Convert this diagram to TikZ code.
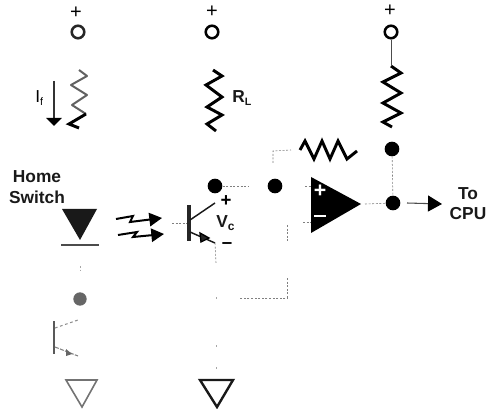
\documentclass[tikz,border=0pt]{standalone}
\usepackage{fontspec}
\setmainfont{Liberation Sans}
\usetikzlibrary{arrows.meta}
\tikzset{
  terminal/.style={circle,draw=black,fill=white,line width=1.9pt,minimum size=9.4pt,inner sep=0pt},
  junction/.style={circle,fill=black,minimum size=#1,inner sep=0pt},
  res/.style={draw=black,line width=2.2pt,line join=miter,miter limit=4},
  fres/.style={draw=black!62,line width=1.5pt,line join=round},
  wire/.style={draw=black!50,line width=0.45pt,dash pattern=on 1.5pt off 1.2pt},
  solidwire/.style={draw=black!70,line width=0.6pt},
  lab/.style={font=\fontsize{13}{13}\selectfont\bfseries,inner sep=0pt,text=black!90},
  sign/.style={font=\fontsize{15}{15}\selectfont,inner sep=0pt},
  beam/.style={draw=black,line width=1.5pt,-{Triangle[length=9.5pt,width=10pt,color=black]}},
  bar/.style={draw=black!85,line width=2.4pt},
  lead/.style={draw=black!90,line width=1.1pt},
}
\begin{document}
\begin{tikzpicture}[x=0.75pt,y=-0.75pt]
\useasboundingbox (0,0) rectangle (488,409);
% terminals and supply signs
\node[terminal,draw=black!85] (t1) at (78,32) {};
\node[terminal] (t2) at (212,32) {};
\node[terminal] (t3) at (391,32) {};
\node[sign] (p1) at (76,13) {+};
\node[sign] (p2) at (212,12) {+};
\node[sign] (p3) at (390,11) {+};
% resistors
\draw[fres] (79,70) -- (87,76) -- (71,85) -- (87,95) -- (72,105) -- (86,114);
\draw[res] (86,114) -- (69,124) -- (79,128);
\draw[res] (213,70) -- (222,76) -- (206,85) -- (222,97) -- (207,107) -- (222,115) -- (207,124) -- (216,131);
\coordinate (r3top) at (391,66);
\draw[res] (r3top) -- (401,73) -- (383,82) -- (401,93) -- (383,103) -- (401,113) -- (383,122) -- (392,127);
\coordinate (fbl) at (300,150);
\draw[res] (fbl) -- (305,141) -- (314,159) -- (322,141) -- (330,159) -- (338,141) -- (347,159) -- (357,151);
% junctions
\node[junction=11pt] (j1) at (215,186) {};
\node[junction=11pt] (j2) at (275,186) {};
\node[junction=11pt] (j3) at (392,149) {};
\node[junction=11pt] (j4) at (393,203) {};
\node[junction=10pt,fill=black!60] (j5) at (80,299) {};
% op amp
\coordinate (oa1) at (311,177);
\coordinate (oa2) at (361,204);
\coordinate (oa3) at (311,233);
\fill[black] (oa1) -- (oa2) -- (oa3) -- cycle;
\node[font=\fontsize{16}{16}\selectfont\bfseries,text=white,inner sep=0pt] (oap) at (320,191) {+};
\draw[white,line width=2pt] (314,216) -- (326,216);
% wires
\draw[solidwire] (t3) -- (r3top);
\coordinate (w1) at (248,186);
\draw[wire] (j1) -- (w1);
\coordinate (w2) at (273,163);
\coordinate (w3) at (273,151);
\coordinate (w4) at (291,150);
\draw[wire] (w2) -- (w3) -- (w4);
\coordinate (w5) at (305,186);
\coordinate (w6) at (311,186);
\draw[wire] (w5) -- (w6);
\coordinate (w7) at (303,222);
\coordinate (w8) at (311,222);
\draw[wire] (w7) -- (w8);
\coordinate (w9) at (287,225);
\coordinate (w10) at (287,241);
\coordinate (w11) at (287,278);
\coordinate (w12) at (287,298);
\coordinate (w13) at (240,298);
\draw[wire] (w9) -- (w10);
\draw[wire] (w11) -- (w12) -- (w13);
\coordinate (w14) at (365,204);
\draw[wire] (w14) -- (j4);
\draw[wire] (j3) -- (j4);
% output arrow
\coordinate (out) at (442,204);
\draw[solidwire,-{Triangle[length=10.5pt,width=12pt,color=black]},line width=0.8pt] (j4) ++(14,0) -- (out);
% transistor
\coordinate (qb1) at (189,205);
\coordinate (qb2) at (189,241);
\coordinate (qc) at (215,203);
\coordinate (qe) at (215,243);
\draw[bar] (qb1) -- (qb2);
\draw[lead] (190,220) -- (qc);
\draw[lead] (190,232) -- (qe);
\path[draw=black,line width=1pt,fill=black!85] (209,238) -- (200,233) -- (201,242) -- cycle;
\coordinate (qbw) at (172,223);
\coordinate (qbw2) at (187,223);
\draw[wire] (qbw) -- (qbw2);
\coordinate (qew) at (216,263);
\draw[wire] (qe) -- (qew);
\draw[wire,draw=black!35] (216,297) -- (216,299);
\draw[wire,draw=black!35] (216,345) -- (216,347);
\draw[wire,draw=black!35] (216,367) -- (216,369);
% right ground
\coordinate (g1) at (200,380);
\coordinate (g2) at (233,380);
\coordinate (g3) at (217,407);
\draw[draw=black!90,line width=1.8pt,line join=miter] (g1) -- (g2) -- (g3) -- cycle;
% LED
\coordinate (l1) at (62,209);
\coordinate (l2) at (97,209);
\coordinate (l3) at (80,240);
\fill[black!90] (l1) -- (l2) -- (l3) -- cycle;
\coordinate (lb1) at (61,245);
\coordinate (lb2) at (99,245);
\draw[draw=black!70,line width=1.7pt] (lb1) -- (lb2);
\draw[wire,draw=black!35] (80,266) -- (80,270);
% left transistor
\draw[draw=black!65,line width=1.6pt] (54,321) -- (54,354);
\draw[draw=black!45,line width=.8pt,dash pattern=on 2pt off 2pt] (55,328) -- (78,320);
\draw[draw=black!50,line width=.8pt,dash pattern=on 3pt off 1pt] (55,347) -- (78,356);
\path[fill=black!60] (72,354) -- (66,349) -- (66,356) -- cycle;
% left ground
\coordinate (h1) at (66,380);
\coordinate (h2) at (97,380);
\coordinate (h3) at (82,407);
\draw[draw=black!55,line width=1.2pt] (h1) -- (h2) -- (h3) -- cycle;
% light beams
\coordinate (b1) at (116,219);
\coordinate (b1e) at (162,218);
\coordinate (b2) at (118,235);
\coordinate (b2e) at (164,234);
\draw[beam] (b1) -- (133,216) -- (130,222) -- (b1e);
\draw[beam] (b2) -- (137,232) -- (133,237) -- (b2e);
% current arrow
\coordinate (ia) at (54,81);
\coordinate (ib) at (54,126);
\draw[draw=black!80,line width=.8pt,-{Triangle[length=6pt,width=11.5pt,color=black]}] (ia) -- (ib);
% labels
\node[lab] (lh) at (37,177) {Home};
\node[lab] (ls) at (37,197) {Switch};
\node[lab] (lt) at (468,194) {To};
\node[lab] (lc) at (468,214) {CPU};
\node[lab,anchor=west] (lr) at (232,98) {R\raisebox{-2.5pt}{\fontsize{8}{8}\selectfont L}};
\node[font=\fontsize{13}{13}\selectfont,inner sep=0pt,anchor=west] (li) at (35,98) {I\raisebox{-2.5pt}{\fontsize{8}{8}\selectfont f}};
\node[lab,anchor=west] (lv) at (216,223) {V\raisebox{-2.5pt}{\fontsize{9}{9}\selectfont c}};
\node[font=\fontsize{14}{14}\selectfont\bfseries,inner sep=0pt] (vp) at (226,201) {+};
\node[font=\fontsize{14}{14}\selectfont\bfseries,inner sep=0pt] (vm) at (227,246) {–};
\end{tikzpicture}
\end{document}
